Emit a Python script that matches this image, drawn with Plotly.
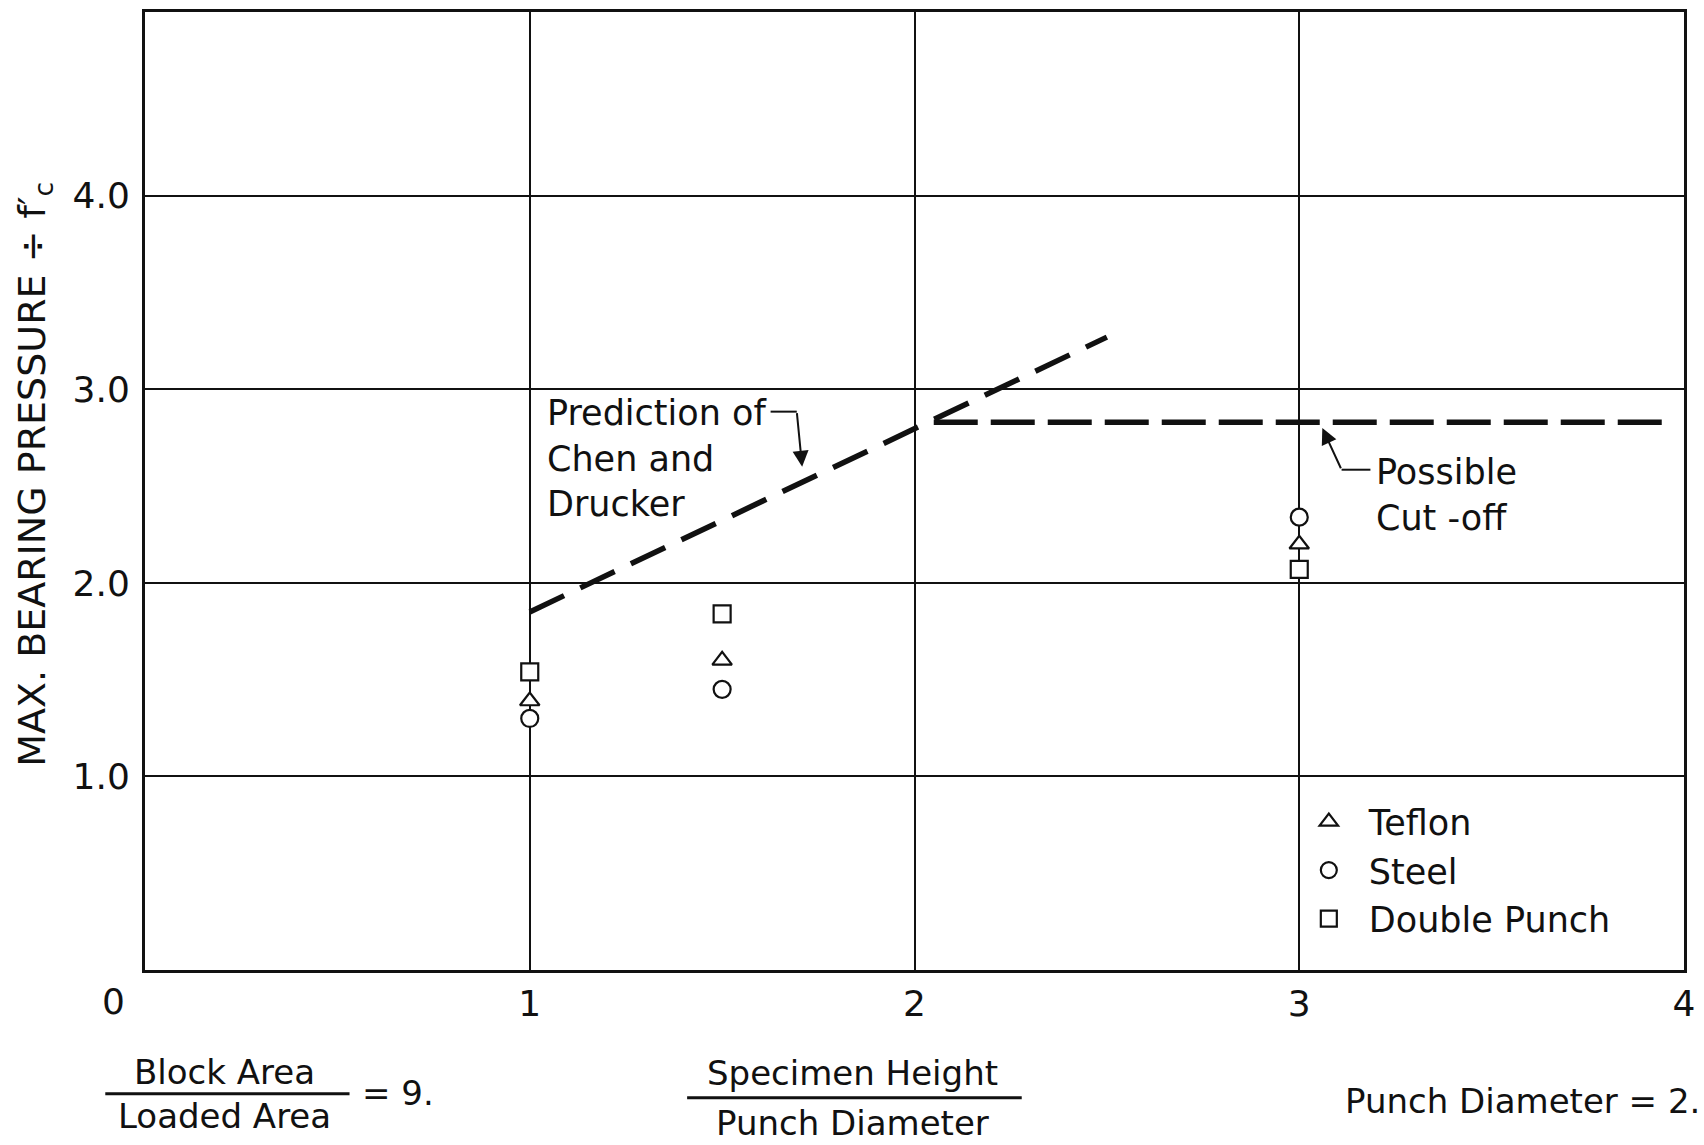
import plotly.graph_objects as go

# ---- data ----
teflon_x = [1.0, 1.5, 3.0]
teflon_y = [1.39, 1.60, 2.20]
steel_x = [1.0, 1.5, 3.0]
steel_y = [1.30, 1.45, 2.34]
double_x = [1.0, 1.5, 3.0]
double_y = [1.54, 1.84, 2.07]
chen_x = [1.0, 2.5]
chen_y = [1.85, 3.27]
cutoff_x = [2.05, 3.95]
cutoff_y = [2.83, 2.83]
x_ticks = [1, 2, 3, 4]
x_ticklabels = ["1", "2", "3", "4"]
y_ticks = [1, 2, 3, 4]
y_ticklabels = ["1.0", "2.0", "3.0", "4.0"]

FONT = "DejaVu Sans"
INK = "#111111"

# pixel helpers (plot area 145..1695 x 10..970)
L, R, T, B = 145, 1695, 10, 970
def px(x):
    return (x - L) / (R - L)
def py(y):
    return (B - y) / (B - T)

fig = go.Figure()

fig.add_trace(go.Scatter(x=chen_x, y=chen_y, mode="lines", showlegend=False,
                         line=dict(color=INK, width=5.5, dash="38px,18px")))
fig.add_trace(go.Scatter(x=cutoff_x, y=cutoff_y, mode="lines", showlegend=False,
                         line=dict(color=INK, width=5.5, dash="44px,13px")))

mk = dict(size=17, color="white", line=dict(color=INK, width=2.2))
fig.add_trace(go.Scatter(x=teflon_x, y=teflon_y, mode="markers", name="Teflon",
                         legendgroup="a",
                         marker=dict(symbol="triangle-up", **mk)))
fig.add_trace(go.Scatter(x=steel_x, y=steel_y, mode="markers", name="Steel",
                         legendgroup="b",
                         marker=dict(symbol="circle", **mk)))
fig.add_trace(go.Scatter(x=double_x, y=double_y, mode="markers", name="Double Punch",
                         legendgroup="c",
                         marker=dict(symbol="square", **mk)))

def pa(x, y, text, size=33, xanchor="center", **kw):
    return dict(xref="paper", yref="paper", x=px(x), y=py(y), text=text,
                xanchor=xanchor, yanchor="middle", showarrow=False,
                font=dict(size=size), **kw)

ann = []
ann.append(pa(113, 1002, "0", size=36))
ann.append(pa(33, 473, "MAX. BEARING PRESSURE ÷ f′<sub>c</sub>", size=38, textangle=-90))
ann.append(pa(225, 1072, "Block Area", size=34))
ann.append(pa(225, 1116, "Loaded Area", size=34))
ann.append(pa(362, 1093, "= 9.", xanchor="left", size=34))
ann.append(pa(858, 1073, "Specimen Height", size=34))
ann.append(pa(858, 1123, "Punch Diameter", size=34))
ann.append(pa(1352, 1101, "Punch Diameter = 2.", xanchor="left", size=34))
# line labels
ann.append(dict(x=1.04, y=2.645, text="Prediction of<br>Chen and<br>Drucker",
                xanchor="left", yanchor="middle", align="left", showarrow=False,
                font=dict(size=35)))
ann.append(dict(x=3.195, y=2.455, text="Possible<br>Cut -off",
                xanchor="left", yanchor="middle", align="left", showarrow=False,
                font=dict(size=35)))
# arrows
ann.append(dict(x=1.708, y=2.60, ax=1.694, ay=2.885, axref="x", ayref="y",
                text="", showarrow=True, arrowhead=2, arrowsize=1.6, arrowwidth=2,
                arrowcolor=INK))
ann.append(dict(x=3.06, y=2.80, ax=3.11, ay=2.585, axref="x", ayref="y",
                text="", showarrow=True, arrowhead=2, arrowsize=1.6, arrowwidth=2,
                arrowcolor=INK))

shapes = [
    dict(type="line", x0=1.626, x1=1.694, y0=2.885, y1=2.885,
         line=dict(color=INK, width=2)),
    dict(type="line", x0=3.11, x1=3.185, y0=2.585, y1=2.585,
         line=dict(color=INK, width=2)),
    dict(type="line", xref="paper", yref="paper", x0=px(105), x1=px(351),
         y0=py(1094), y1=py(1094), line=dict(color=INK, width=3)),
    dict(type="line", xref="paper", yref="paper", x0=px(691), x1=px(1028),
         y0=py(1098), y1=py(1098), line=dict(color=INK, width=3)),
]

fig.update_layout(
    width=1704, height=1145, autosize=False,
    margin=dict(l=L, r=1704 - R, t=T, b=1145 - B),
    paper_bgcolor="white", plot_bgcolor="white",
    font=dict(family=FONT, color=INK, size=33),
    annotations=ann, shapes=shapes,
    legend=dict(x=px(1297), y=py(792), xanchor="left", yanchor="top",
                bgcolor="rgba(0,0,0,0)", font=dict(size=35, family=FONT),
                tracegroupgap=0, itemwidth=70),
    xaxis=dict(range=[0, 4], tickvals=x_ticks, ticktext=x_ticklabels,
               showgrid=True, gridcolor=INK, gridwidth=1.5,
               showline=True, linecolor=INK, linewidth=3, mirror=True,
               zeroline=False, ticks="", ticklabelstandoff=0,
               tickfont=dict(size=36)),
    yaxis=dict(range=[0, 4.95], tickvals=y_ticks, ticktext=y_ticklabels,
               showgrid=True, gridcolor=INK, gridwidth=1.5,
               showline=True, linecolor=INK, linewidth=3, mirror=True,
               zeroline=False, ticks="", ticklabelstandoff=5,
               tickfont=dict(size=36)),
)

fig.write_html("out.html")
